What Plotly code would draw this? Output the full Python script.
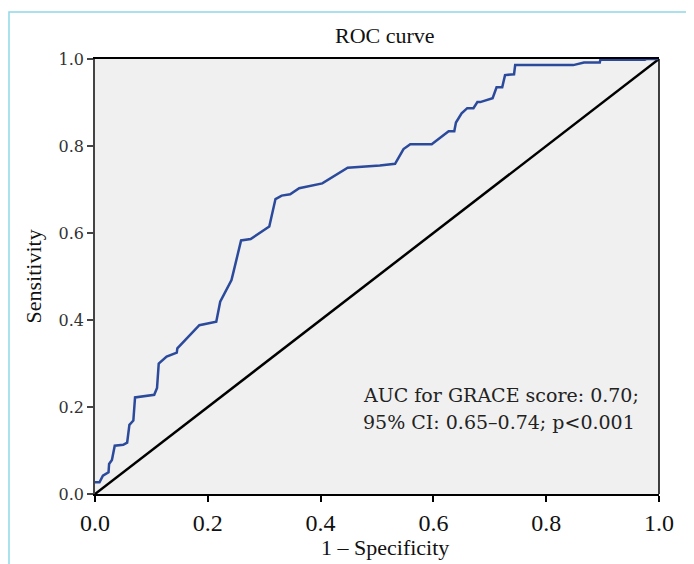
import plotly.graph_objects as go

# ROC curve points (1 - specificity, sensitivity)
fpr = [0.0, 0.008, 0.014, 0.024, 0.025, 0.030, 0.035, 0.050, 0.057, 0.061, 0.068, 0.071,
       0.105, 0.110, 0.113, 0.127, 0.145, 0.146, 0.185, 0.215, 0.222, 0.242, 0.246, 0.259,
       0.276, 0.309, 0.320, 0.331, 0.346, 0.362, 0.403, 0.448, 0.505, 0.532, 0.547, 0.559,
       0.597, 0.627, 0.637, 0.640, 0.650, 0.660, 0.671, 0.678, 0.683, 0.705, 0.712, 0.722,
       0.727, 0.743, 0.745, 0.848, 0.867, 0.895, 0.896, 0.975, 0.978, 1.0]
tpr = [0.027, 0.027, 0.042, 0.050, 0.069, 0.078, 0.111, 0.113, 0.118, 0.159, 0.169, 0.222,
       0.228, 0.244, 0.300, 0.316, 0.325, 0.335, 0.388, 0.396, 0.442, 0.492, 0.513, 0.583,
       0.586, 0.615, 0.678, 0.686, 0.689, 0.703, 0.714, 0.750, 0.755, 0.759, 0.793, 0.804,
       0.804, 0.834, 0.834, 0.854, 0.875, 0.887, 0.887, 0.901, 0.901, 0.910, 0.935, 0.935,
       0.963, 0.965, 0.986, 0.986, 0.992, 0.992, 0.998, 0.998, 1.0, 1.0]
ref_x = [0.0, 1.0]
ref_y = [0.0, 1.0]
tick_vals = [0.0, 0.2, 0.4, 0.6, 0.8, 1.0]
tick_text = ["0.0", "0.2", "0.4", "0.6", "0.8", "1.0"]
note_lines = ["AUC for GRACE score: 0.70;", "95% CI: 0.65–0.74; p<0.001"]

fig = go.Figure()
fig.add_trace(go.Scatter(x=ref_x, y=ref_y, mode="lines",
                         line=dict(color="#000000", width=2.5), hoverinfo="skip"))
fig.add_trace(go.Scatter(x=fpr, y=tpr, mode="lines",
                         line=dict(color="#2b4a9b", width=2.5)))

annotations = [
    dict(text="ROC curve", xref="paper", yref="paper", x=0.514, y=1.053,
         xanchor="center", yanchor="middle", showarrow=False,
         font=dict(family="Liberation Serif", size=22, color="#111111")),
    dict(text="1 – Specificity", xref="paper", yref="paper", x=0.514, y=-0.122,
         xanchor="center", yanchor="middle", showarrow=False,
         font=dict(family="Liberation Serif", size=22, color="#111111")),
    dict(text="Sensitivity", xref="paper", yref="paper", x=-0.109, y=0.499,
         xanchor="center", yanchor="middle", showarrow=False, textangle=-90,
         font=dict(family="Liberation Serif", size=22, color="#111111")),
]
for line_text, ypos in zip(note_lines, [0.2276, 0.1655]):
    annotations.append(dict(text=line_text, xref="paper", yref="paper", x=0.471, y=ypos,
                            xanchor="left", yanchor="middle", align="left", showarrow=False,
                            font=dict(family="DejaVu Serif", size=19, color="#222222")))

fig.update_layout(
    width=686, height=556,
    margin=dict(l=87, r=35, t=51, b=70),
    paper_bgcolor="white", plot_bgcolor="#f0f0f0",
    showlegend=False,
    xaxis=dict(range=[0, 1], tickvals=tick_vals, ticktext=tick_text,
               showgrid=False, zeroline=False, showline=True, linecolor="#000000",
               linewidth=1.5, mirror=True, ticks="outside", ticklen=6,
               tickcolor="#000000", tickwidth=1.5,
               tickfont=dict(family="Liberation Serif", size=24, color="#111111")),
    yaxis=dict(range=[0, 1], tickvals=tick_vals, ticktext=tick_text,
               showgrid=False, zeroline=False, showline=True, linecolor="#444444",
               linewidth=1.5, ticks="outside", ticklen=6,
               tickcolor="#444444", tickwidth=1.5,
               tickfont=dict(family="DejaVu Serif", size=16, color="#333333")),
    shapes=[
        dict(type="line", xref="paper", yref="paper", x0=1, x1=1, y0=0, y1=1,
             line=dict(color="#000000", width=1.5)),
        dict(type="rect", xref="paper", yref="paper",
             x0=-0.1525, x1=1.0567, y0=-0.2, y1=1.1078,
             line=dict(color="#8fd8e8", width=1.5), layer="below"),
    ],
    annotations=annotations,
)

fig.write_html("out.html")
